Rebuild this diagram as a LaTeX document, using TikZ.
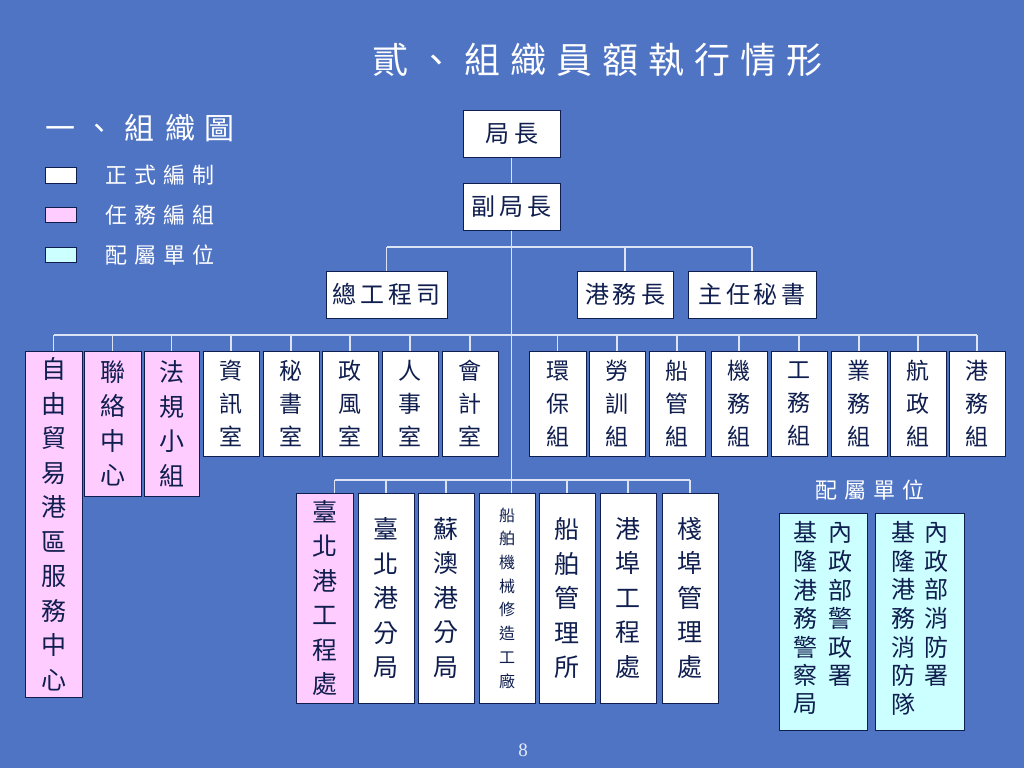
\documentclass[tikz,border=0pt]{standalone}
\usepackage{fontspec}
\newfontfamily\cjk{Noto Sans CJK TC}
\newfontfamily\tnr{Liberation Serif}
\definecolor{bg}{HTML}{5074C4}
\definecolor{navy}{HTML}{0F1E4E}
\definecolor{pinkf}{HTML}{FFCCFF}
\definecolor{cyanf}{HTML}{CCFFFF}
\definecolor{conn}{HTML}{DCE3F5}
\definecolor{pgc}{HTML}{E4EAFA}
\tikzset{
  box/.style={draw=navy, line width=1pt, fill=white, inner sep=0pt, align=center, text=navy},
  pinkbox/.style={fill=pinkf},
  cyanbox/.style={fill=cyanf},
  fa/.style={font=\cjk\fontsize{23}{33}\selectfont},
  fb/.style={font=\cjk\fontsize{25}{34.5}\selectfont},
  fc/.style={font=\cjk\fontsize{16}{23.7}\selectfont},
  fh/.style={font=\cjk\fontsize{24}{28}\selectfont},
  cline/.style={draw=conn, line width=1.4pt},
  wtext/.style={text=white, inner sep=0pt}
}
\newcommand\bx[7]{\node[box,#6,minimum width={#4-#2},minimum height={#5-#3}] (#1) at ({(#2+#4)/2},{(#3+#5)/2}) {#7};}
\begin{document}
\begin{tikzpicture}[x=1pt,y=-1pt]
\fill[bg] (0,0) rectangle (1024,768);
\useasboundingbox (0,0) rectangle (1024,768);
% titles
\node[wtext, font=\cjk\fontsize{36}{40}\selectfont] (title) at (597.5,60) {貳\hspace{9.9pt}、\hspace{9.9pt}組\hspace{9.9pt}織\hspace{9.9pt}員\hspace{9.9pt}額\hspace{9.9pt}執\hspace{9.9pt}行\hspace{9.9pt}情\hspace{9.9pt}形};
\node[wtext, font=\cjk\fontsize{30}{34}\selectfont] (sub) at (140,128) {一\hspace{10pt}、\hspace{10pt}組\hspace{10pt}織\hspace{10pt}圖};
% legend
\bx{lg1}{45}{167}{76}{183}{}{}
\bx{lg2}{45}{207}{76}{222}{pinkbox}{}
\bx{lg3}{45}{247}{76}{262}{cyanbox}{}
\node[wtext, anchor=west, font=\cjk\fontsize{22}{26}\selectfont] (lt1) at (105,175) {正\hspace{7pt}式\hspace{7pt}編\hspace{7pt}制};
\node[wtext, anchor=west, font=\cjk\fontsize{22}{26}\selectfont] (lt2) at (105,215) {任\hspace{7pt}務\hspace{7pt}編\hspace{7pt}組};
\node[wtext, anchor=west, font=\cjk\fontsize{22}{26}\selectfont] (lt3) at (105,255) {配\hspace{7pt}屬\hspace{7pt}單\hspace{7pt}位};
% top
\bx{jz}{463}{110}{560}{157}{font=\cjk\fontsize{24}{28}\selectfont}{局\hspace{5pt}長}
\bx{fjz}{463}{183}{560}{230}{font=\cjk\fontsize{24}{28}\selectfont}{副\hspace{4pt}局\hspace{4pt}長}
\bx{zgcs}{326}{271}{447}{318}{font=\cjk\fontsize{24}{28}\selectfont}{總\hspace{3.7pt}工\hspace{3.7pt}程\hspace{3.7pt}司}
\bx{gwz}{577}{271}{673}{318}{font=\cjk\fontsize{24}{28}\selectfont}{港\hspace{4pt}務\hspace{4pt}長}
\bx{zrms}{688}{271}{816}{318}{font=\cjk\fontsize{24}{28}\selectfont}{主\hspace{3.7pt}任\hspace{3.7pt}秘\hspace{3.7pt}書}
% row 1
\bx{z1}{25}{351}{82}{697}{pinkbox,fb}{自\\由\\貿\\易\\港\\區\\服\\務\\中\\心}
\bx{z2}{84}{351}{141}{496}{pinkbox,fb}{聯\\絡\\中\\心}
\bx{z3}{144}{351}{199}{496}{pinkbox,fb}{法\\規\\小\\組}
\bx{z4}{203}{351}{259}{456}{fa}{資\\訊\\室}
\bx{z5}{263}{351}{319}{456}{fa}{秘\\書\\室}
\bx{z6}{322}{351}{378}{456}{fa}{政\\風\\室}
\bx{z7}{382}{351}{438}{456}{fa}{人\\事\\室}
\bx{z8}{442}{351}{498}{456}{fa}{會\\計\\室}
\bx{r1}{529}{351}{586}{456}{fa}{環\\保\\組}
\bx{r2}{589}{351}{645}{456}{fa}{勞\\訓\\組}
\bx{r3}{649}{351}{705}{456}{fa}{船\\管\\組}
\bx{r4}{711}{351}{767}{456}{fa}{機\\務\\組}
\bx{r5}{771}{351}{827}{456}{fa}{工\\務\\組}
\bx{r6}{831}{351}{887}{456}{fa}{業\\務\\組}
\bx{r7}{890}{351}{946}{456}{fa}{航\\政\\組}
\bx{r8}{949}{351}{1005}{456}{fa}{港\\務\\組}
% row 3
\bx{b1}{296}{493}{353}{703}{pinkbox,fb}{臺\\北\\港\\工\\程\\處}
\bx{b2}{358}{493}{414}{703}{fb}{臺\\北\\港\\分\\局}
\bx{b3}{418}{493}{474}{703}{fb}{蘇\\澳\\港\\分\\局}
\bx{b4}{479}{493}{535}{703}{fc}{船\\舶\\機\\械\\修\\造\\工\\廠}
\bx{b5}{539}{493}{595}{703}{fb}{船\\舶\\管\\理\\所}
\bx{b6}{600}{493}{656}{703}{fb}{港\\埠\\工\\程\\處}
\bx{b7}{662}{493}{718}{703}{fb}{棧\\埠\\管\\理\\處}
% attached units
\node[wtext, font=\cjk\fontsize{22}{26}\selectfont] (pslabel) at (870,490) {配\hspace{7pt}屬\hspace{7pt}單\hspace{7pt}位};
\bx{c1}{779}{513}{867}{730}{cyanbox,fh}{\begin{tabular}{@{}c@{\hspace{11pt}}c@{}}基&內\\隆&政\\港&部\\務&警\\警&政\\察&署\\局&\end{tabular}}
\bx{c2}{875}{513}{964}{730}{cyanbox,fh}{\begin{tabular}{@{}c@{\hspace{9pt}}c@{}}基&內\\隆&政\\港&部\\務&消\\消&防\\防&署\\隊&\end{tabular}}
% page number
\node[inner sep=0pt, text=pgc, font=\tnr\fontsize{19}{21}\selectfont] (pg) at (523,750) {8};
% connectors
\coordinate (barA) at (0,247);
\coordinate (barB) at (0,335);
\coordinate (barC) at (0,480);
\draw[cline] (jz.south) -- (fjz.north);
\draw[cline] (fjz.south) -- (fjz.south |- b4.north);
\draw[cline] (zgcs.north |- barA) -- (zrms.north |- barA);
\foreach \n in {zgcs,gwz,zrms} \draw[cline] (\n.north) -- (\n.north |- barA);
\draw[cline] (z1.north |- barB) -- (r8.north |- barB);
\foreach \n in {z1,z2,z3,z4,z5,z6,z7,z8,r1,r2,r3,r4,r5,r6,r7,r8} \draw[cline] (\n.north) -- (\n.north |- barB);
\draw[cline] ([xshift=10pt]b1.north |- barC) -- (b7.north |- barC);
\draw[cline] ([xshift=10pt]b1.north) -- ([xshift=10pt]b1.north |- barC);
\foreach \n in {b2,b3,b5,b6,b7} \draw[cline] (\n.north) -- (\n.north |- barC);
\end{tikzpicture}
\end{document}
